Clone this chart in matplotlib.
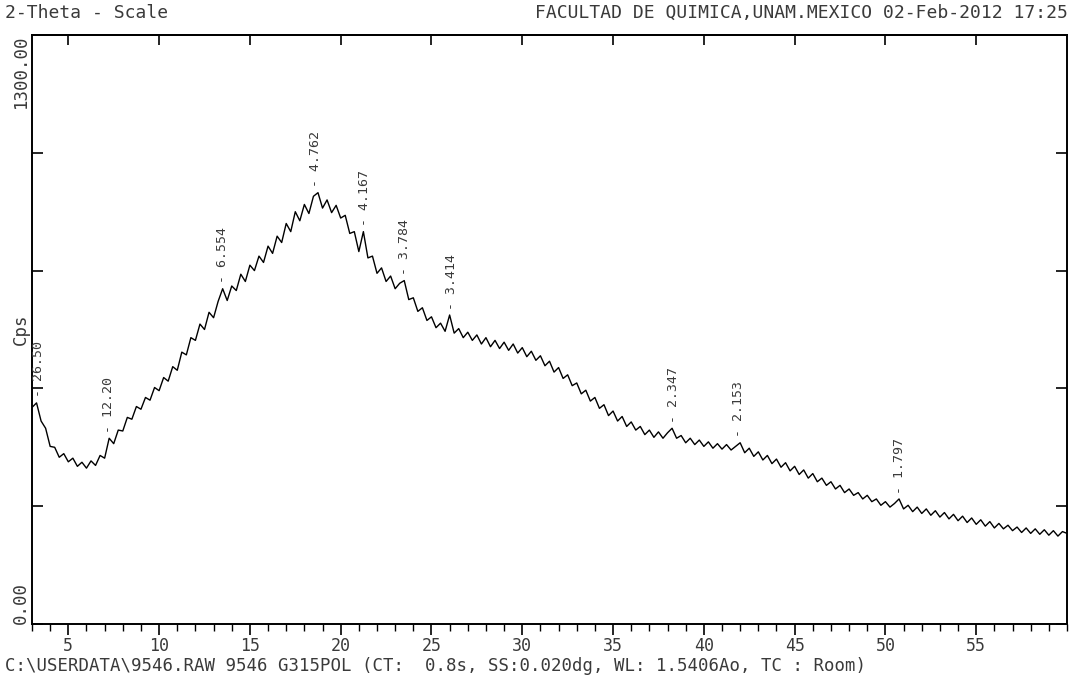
import numpy as np
import matplotlib
matplotlib.use('Agg')
import matplotlib.pyplot as plt
from matplotlib.ticker import MultipleLocator, FixedLocator

# scan: 2-theta from 3 to 60 deg, counts every 0.25 deg
two_theta_start = 3.0
two_theta_end = 60.0
counts = [
    478, 488, 448, 432, 392, 390, 368, 376, 358, 366, 348, 357, 344, 360, 350, 372,   # 3.00 - 6.75
    366, 410, 398, 428, 426, 456, 452, 480, 474, 500, 494, 522, 515, 544, 536, 568,   # 7.00 - 10.75
    560, 600, 594, 632, 626, 662, 650, 688, 676, 712, 740, 714, 746, 736, 772, 756,   # 11.00 - 14.75
    792, 780, 812, 798, 834, 818, 856, 842, 884, 866, 910, 890, 926, 906, 944, 952,   # 15.00 - 18.75
    918, 936, 908, 924, 896, 902, 862, 866, 822, 866, 808, 812, 774, 786, 756, 768,   # 19.00 - 22.75
    740, 752, 758, 716, 720, 690, 698, 670, 678, 654, 664, 646, 682, 642, 652, 632,   # 23.00 - 26.75
    644, 626, 638, 618, 632, 612, 626, 608, 622, 604, 618, 598, 610, 590, 602, 582,   # 27.00 - 30.75
    592, 570, 580, 556, 566, 542, 550, 526, 532, 508, 516, 492, 500, 476, 484, 460,   # 31.00 - 34.75
    470, 448, 458, 436, 446, 428, 436, 418, 428, 412, 424, 410, 422, 432, 410, 416,   # 35.00 - 38.75
    400, 410, 396, 406, 392, 402, 388, 398, 386, 396, 384, 392, 400, 378, 388, 370,   # 39.00 - 42.75
    380, 362, 372, 354, 364, 346, 356, 338, 348, 330, 340, 322, 332, 314, 322, 306,   # 43.00 - 46.75
    314, 298, 306, 290, 298, 284, 290, 276, 284, 270, 276, 262, 270, 258, 266, 276,   # 47.00 - 50.75
    254, 262, 248, 258, 244, 254, 240, 250, 236, 246, 232, 242, 228, 238, 224, 234,   # 51.00 - 54.75
    220, 230, 216, 226, 212, 222, 210, 218, 206, 214, 202, 212, 200, 210, 198, 208,   # 55.00 - 58.75
    196, 206, 194, 204, 200,                                                          # 59.00 - 60.00
]

# d-spacings (Angstrom) marked on the pattern
peak_d = ['26.50', '12.20', '6.554', '4.762', '4.167', '3.784', '3.414', '2.347', '2.153', '1.797']
wavelength = 1.5406

x_labels = [5, 10, 15, 20, 25, 30, 35, 40, 45, 50, 55]

two_theta = np.linspace(two_theta_start, two_theta_end, len(counts))
counts = np.array(counts)

text_color = '#3a3a3a'
mono = 'DejaVu Sans Mono'

fig = plt.figure(figsize=(10.75, 6.77), dpi=100)
ax = fig.add_axes([32/1075, 53/677, 1035/1075, 589/677])

ax.plot(two_theta, counts, color='black', lw=1.0)

ax.set_xlim(two_theta_start, two_theta_end)
ax.set_ylim(0, 1300)

for s in ax.spines.values():
    s.set_linewidth(1.4)

# bottom axis: labelled every 5 deg, minor every 1 deg, ticks outwards
ax.xaxis.set_major_locator(FixedLocator(x_labels))
ax.xaxis.set_minor_locator(MultipleLocator(1))
ax.tick_params(axis='x', which='major', direction='out', length=8, width=1.2,
               pad=1.5, labelsize=12, labelcolor=text_color)
ax.tick_params(axis='x', which='minor', direction='out', length=5, width=1.0)
for lab in ax.get_xticklabels():
    lab.set_family(mono)

# top axis: inward ticks every 5 deg, no labels
top = ax.secondary_xaxis('top')
top.xaxis.set_major_locator(FixedLocator(x_labels))
top.tick_params(direction='in', length=7, width=1.2, labeltop=False)
top.spines['top'].set_linewidth(1.4)

# left/right: inward ticks, only the ends are labelled
ax.yaxis.set_major_locator(MultipleLocator(260))
ax.tick_params(axis='y', direction='in', length=8, width=1.2, left=True, right=True,
               labelleft=False)

ytr = ax.get_yaxis_transform()
ax.text(-0.0105, 1300, '1300.00', transform=ytr, rotation=90, ha='center', va='top',
        family=mono, fontsize=12.5, color=text_color)
ax.text(-0.0105, 0, '0.00', transform=ytr, rotation=90, ha='center', va='bottom',
        family=mono, fontsize=12.5, color=text_color)
ax.text(-0.0105, 0.50, 'Cps', transform=ax.transAxes, rotation=90, ha='center', va='center',
        family=mono, fontsize=12.5, color=text_color)

# peak markers: d-spacing written vertically above the trace
for d in peak_d:
    pos = np.degrees(2 * np.arcsin(wavelength / (2 * float(d))))
    near = (two_theta > pos - 0.3) & (two_theta < pos + 0.3)
    top_y = counts[near].max()
    ax.text(pos, top_y + 12, '- ' + d, rotation=90, ha='center', va='bottom',
            family=mono, fontsize=9.5, color=text_color)

fig.text(5/1075, 1 - 13/677, '2-Theta - Scale', ha='left', va='center',
         family=mono, fontsize=13, color=text_color)
fig.text(1068/1075, 1 - 13/677, 'FACULTAD DE QUIMICA,UNAM.MEXICO 02-Feb-2012 17:25',
         ha='right', va='center', family=mono, fontsize=13, color=text_color)
fig.text(5/1075, 1 - 666/677,
         'C:\\USERDATA\\9546.RAW 9546 G315POL (CT:  0.8s, SS:0.020dg, WL: 1.5406Ao, TC : Room)',
         ha='left', va='center', family=mono, fontsize=12.5, color=text_color)

fig.savefig('out.png', dpi=100)
